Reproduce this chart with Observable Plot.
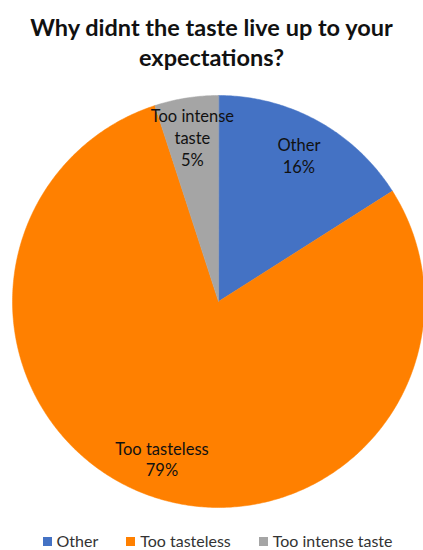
<!DOCTYPE html>
<html>
<head>
<meta charset="utf-8">
<script src="https://cdn.jsdelivr.net/npm/d3@7"></script>
<script src="https://cdn.jsdelivr.net/npm/@observablehq/plot@0.6"></script>
<style>
  html, body { margin: 0; padding: 0; background: #fff; }
  body { width: 423px; height: 550px; overflow: hidden; font-family: Lato, "Open Sans", sans-serif; }
  #title { height: 85px; box-sizing: border-box; padding-top: 12px; text-align: center; font-weight: bold; font-size: 23.5px; line-height: 30px; color: #111; }
  #legend { position: absolute; left: 0; width: 423px; top: 533px; height: 16px; display: flex; justify-content: center; align-items: center; gap: 28px; font-size: 16px; line-height: 16px; color: #333; padding-left: 12px; box-sizing: border-box; }
  #legend span.sw { display: inline-block; width: 9px; height: 9px; margin-right: 5px; vertical-align: middle; position: relative; top: -1px; }
</style>
</head>
<body>
<div id="title">Why didnt the taste live up to your<br>expectations?</div>
<div id="chart"></div>
<div id="legend"></div>
<script>
const categories = ["Other", "Too tasteless", "Too intense taste"];
const values = [16, 79, 5];
const colors = ["#4472C4", "#FF8000", "#A5A5A5"];
const labelLines = [["Other"], ["Too tasteless"], ["Too intense", "taste"]];

const data = categories.map((c, i) => ({category: c, value: values[i], lines: labelLines[i]}));
const total = d3.sum(values);
const arcs = d3.pie().sort(null).value(d => d.value)(data);

// polygon points for each slice in unit coordinates (y up)
const pts = [];
for (const a of arcs) {
  pts.push({category: a.data.category, x: 0, y: 0});
  const n = Math.max(2, Math.ceil((a.endAngle - a.startAngle) / 0.01));
  for (let k = 0; k <= n; k++) {
    const t = a.startAngle + (a.endAngle - a.startAngle) * k / n;
    pts.push({category: a.data.category, x: Math.sin(t), y: Math.cos(t)});
  }
}
const labels = arcs.map(a => {
  const m = (a.startAngle + a.endAngle) / 2;
  return {
    x: 0.81 * Math.sin(m),
    y: 0.81 * Math.cos(m),
    text: [...a.data.lines, Math.round(a.data.value / total * 100) + "%"].join("\n")
  };
});

const W = 423, H = 435, cx = 218, cy = 216, R = 206;
const chart = Plot.plot({
  width: W,
  height: H,
  margin: 0,
  style: {fontFamily: "Lato, 'Open Sans', sans-serif", background: "white"},
  x: {domain: [-cx / R, (W - cx) / R], axis: null},
  y: {domain: [(cy - H) / R, cy / R], axis: null},
  color: {domain: categories, range: colors},
  marks: [
    Plot.line(pts, {x: "x", y: "y", z: "category", fill: "category", stroke: "category", strokeWidth: 0.5, curve: "linear-closed"}),
    Plot.text(labels, {x: "x", y: "y", text: "text", fontSize: 16.5, lineHeight: 1.33, fill: "#111"})
  ]
});
document.getElementById("chart").appendChild(chart);

const legend = document.getElementById("legend");
categories.forEach((c, i) => {
  const item = document.createElement("div");
  const sw = document.createElement("span");
  sw.className = "sw";
  sw.style.background = colors[i];
  item.appendChild(sw);
  item.appendChild(document.createTextNode(c));
  legend.appendChild(item);
});
</script>
</body>
</html>
